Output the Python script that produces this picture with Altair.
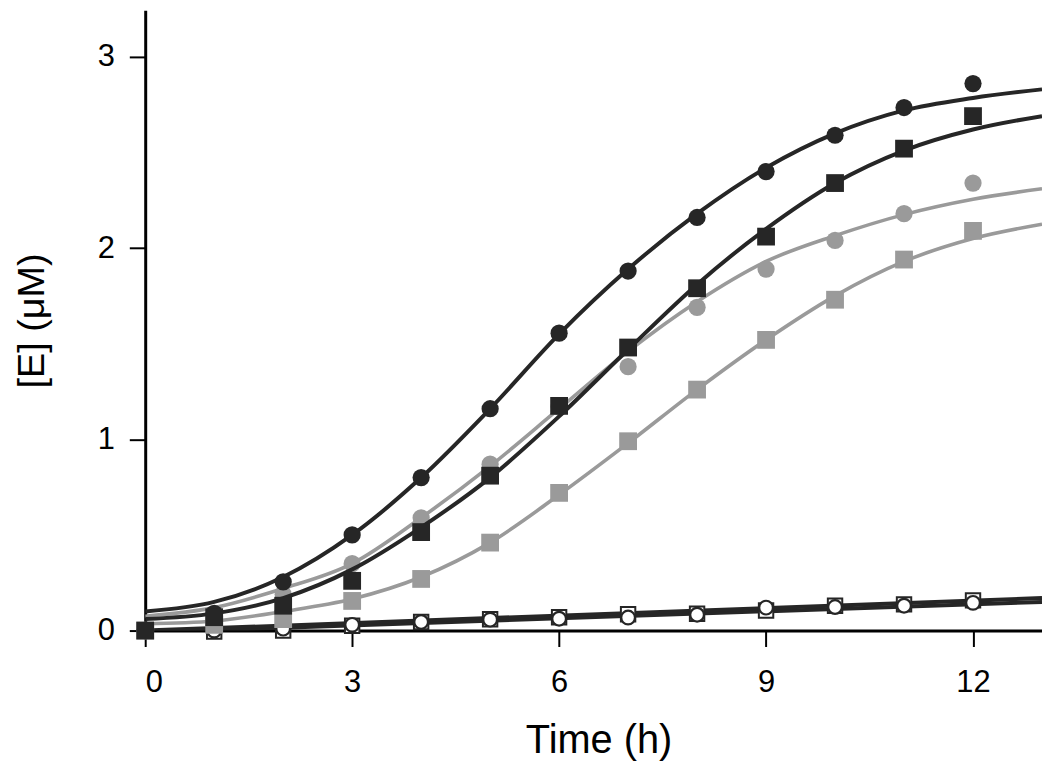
import altair as alt
import pandas as pd

FONT = "Liberation Sans"
DARK = "#262626"
GRAY = "#9a9a9a"

# measured points (time in h, [E] in uM)
t_pts = [0, 1, 2, 3, 4, 5, 6, 7, 8, 9, 10, 11, 12]
black_circle = [0.0, 0.09, 0.255, 0.50, 0.80, 1.16, 1.555, 1.88, 2.16, 2.40, 2.59, 2.735, 2.86]
black_square = [0.0, 0.07, 0.13, 0.26, 0.515, 0.81, 1.175, 1.48, 1.79, 2.06, 2.34, 2.52, 2.69]
gray_circle = [0.0, 0.06, 0.19, 0.35, 0.59, 0.87, 1.17, 1.38, 1.69, 1.89, 2.04, 2.18, 2.34]
gray_square = [0.0, 0.03, 0.06, 0.155, 0.27, 0.46, 0.72, 0.99, 1.26, 1.52, 1.73, 1.94, 2.09]
open_circle = [0.0, 0.0, 0.01, 0.03, 0.045, 0.057, 0.062, 0.068, 0.083, 0.12, 0.123, 0.13, 0.145]
open_square = [0.0, -0.005, 0.0, 0.025, 0.045, 0.059, 0.07, 0.085, 0.088, 0.105, 0.13, 0.137, 0.158]

# fitted curves
t_fit = [0, 1, 2, 3, 4, 5, 6, 7, 8, 9, 10, 11, 12, 13]
fit_black_circle = [0.10, 0.15, 0.28, 0.50, 0.80, 1.16, 1.55, 1.89, 2.18, 2.42, 2.60, 2.72, 2.785, 2.83]
fit_black_square = [0.06, 0.09, 0.17, 0.32, 0.54, 0.80, 1.12, 1.47, 1.81, 2.10, 2.34, 2.51, 2.62, 2.69]
fit_gray_circle = [0.075, 0.12, 0.22, 0.35, 0.59, 0.86, 1.16, 1.46, 1.72, 1.93, 2.065, 2.175, 2.255, 2.31]
fit_gray_square = [0.035, 0.05, 0.10, 0.165, 0.28, 0.46, 0.71, 0.98, 1.26, 1.52, 1.75, 1.93, 2.05, 2.125]
t_lin = [0, 13]
fit_open_circle = [-0.01, 0.15]
fit_open_square = [0.0, 0.17]

x_ticks = [0, 3, 6, 9, 12]
y_ticks = [0, 1, 2, 3]

x_scale = alt.Scale(domain=[0, 13], nice=False, zero=False)
y_scale = alt.Scale(domain=[0, 3.244], nice=False, zero=False)

x_axis = alt.Axis(values=x_ticks, title="Time (h)", titleX=456, titleY=123,
                  titleBaseline="alphabetic", titleFontSize=40, labelPadding=21)
y_axis = alt.Axis(values=y_ticks, title="[E] (μM)", titleX=-102, titleY=312,
                  titleBaseline="alphabetic", titleFontSize=38, labelPadding=15)


def pts_df(ts, vs):
    return pd.DataFrame({"t": ts, "v": vs})


def enc():
    return dict(
        x=alt.X("t:Q", scale=x_scale, axis=x_axis),
        y=alt.Y("v:Q", scale=y_scale, axis=y_axis),
    )


def line_layer(ts, vs, color, width):
    return alt.Chart(pts_df(ts, vs)).mark_line(
        color=color, strokeWidth=width, interpolate="monotone", clip=True
    ).encode(**enc())


def point_layer(ts, vs, shape, size, fill, stroke=None, sw=0):
    kw = dict(shape=shape, size=size, fill=fill, fillOpacity=1, opacity=1, filled=True)
    if stroke is not None:
        kw.update(stroke=stroke, strokeWidth=sw)
    else:
        kw.update(strokeWidth=0)
    return alt.Chart(pts_df(ts, vs)).mark_point(**kw).encode(**enc())


layers = [
    line_layer(t_lin, fit_open_circle, DARK, 4),
    line_layer(t_lin, fit_open_square, DARK, 4),
    point_layer(t_pts, open_square, "square", 210, "white", DARK, 2),
    point_layer(t_pts, open_circle, "circle", 190, "white", DARK, 2.2),
    line_layer(t_fit, fit_gray_circle, GRAY, 3.6),
    line_layer(t_fit, fit_gray_square, GRAY, 3.6),
    point_layer(t_pts, gray_circle, "circle", 300, GRAY),
    point_layer(t_pts, gray_square, "square", 320, GRAY),
    line_layer(t_fit, fit_black_circle, DARK, 4),
    line_layer(t_fit, fit_black_square, DARK, 4),
    point_layer(t_pts, black_circle, "circle", 300, DARK),
    point_layer(t_pts, black_square, "square", 320, DARK),
]

chart = alt.layer(*layers).properties(
    width=902, height=624,
    background="white",
    autosize=alt.AutoSizeParams(type="none"),
    padding={"left": 138, "top": 0, "right": 0, "bottom": 130},
).configure_view(strokeWidth=0, stroke=None).configure_axis(
    grid=False,
    domainColor="black", domainWidth=3,
    tickColor="black", tickWidth=2, tickSize=16,
    labelFont=FONT, labelFontSize=31, labelColor="black",
    titleFont=FONT, titleFontWeight="normal", titleColor="black",
)

chart.save("out.html", embed_options={"renderer": "svg", "actions": False})
